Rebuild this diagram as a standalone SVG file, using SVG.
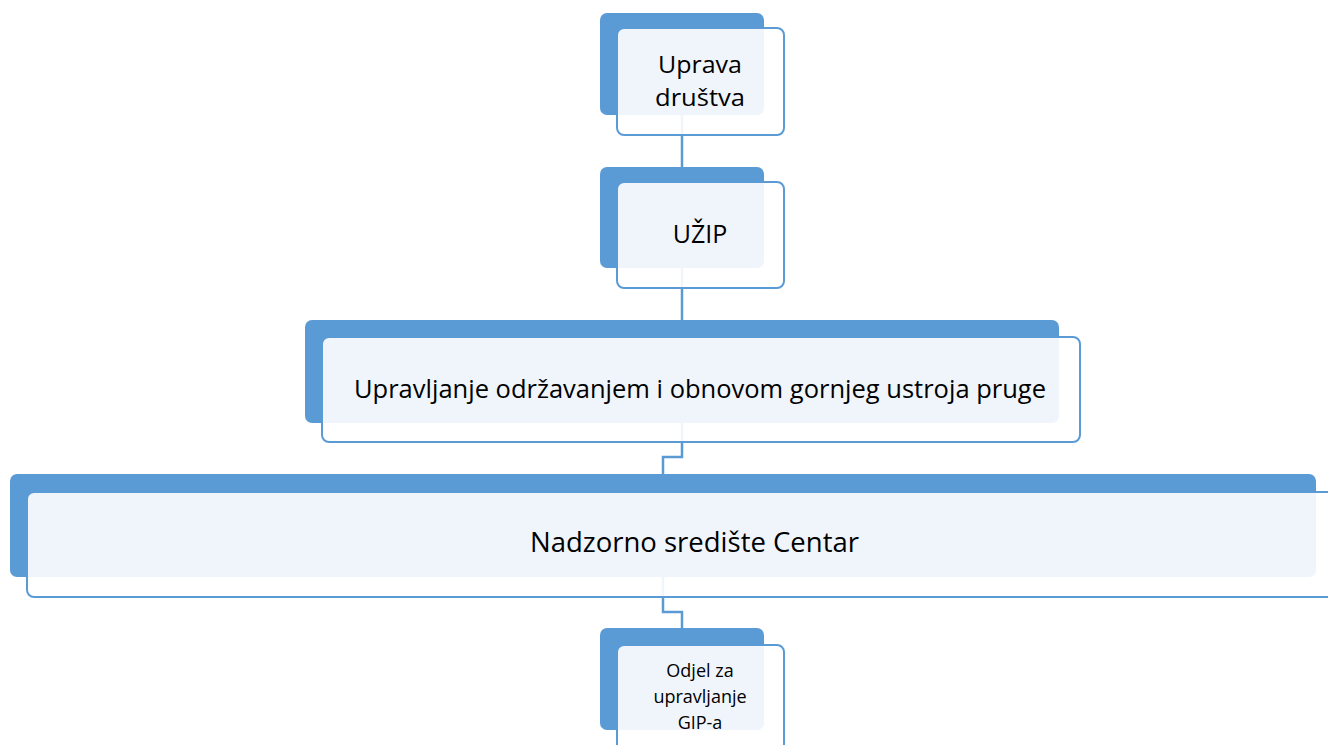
<svg xmlns="http://www.w3.org/2000/svg" width="1328" height="745" viewBox="0 0 1328 745">
<style>
.back{fill:#5B9BD5}
.front{fill:#fff;fill-opacity:0.9;stroke:#5B9BD5;stroke-width:2}
.conn{fill:none;stroke:#5B9BD5;stroke-width:2.5}
.t{font-family:"Open Sans","Liberation Sans",sans-serif;font-size:25px;fill:#000;text-anchor:middle}
.m{font-size:24px}
.s{font-size:18px}
.l{font-size:27.5px}
</style>
<rect width="1328" height="745" fill="#fff"/>
<g id="connectors">
<path class="conn" d="M682 115 V167"/>
<path class="conn" d="M682 268 V320"/>
<path class="conn" d="M682 423 V457 H663 V474"/>
<path class="conn" d="M663 577 V612 H682 V628"/>
</g>
<g id="node1">
<rect class="back" x="600" y="13" width="164" height="102" rx="7"/>
<rect class="front" x="617" y="28" width="167" height="107" rx="7"/>
<text class="t m" x="700" y="73" textLength="84" lengthAdjust="spacingAndGlyphs">Uprava</text>
<text class="t m" x="700" y="106" textLength="90" lengthAdjust="spacingAndGlyphs">društva</text>
</g>
<g id="node2">
<rect class="back" x="600" y="167" width="164" height="101" rx="7"/>
<rect class="front" x="617" y="182" width="167" height="106" rx="7"/>
<text class="t" x="700" y="243">UŽIP</text>
</g>
<g id="node3">
<rect class="back" x="305" y="320" width="754" height="103" rx="7"/>
<rect class="front" x="322" y="337" width="758" height="105" rx="7"/>
<text class="t" x="700" y="398" textLength="692" lengthAdjust="spacingAndGlyphs">Upravljanje održavanjem i obnovom gornjeg ustroja pruge</text>
</g>
<g id="node4">
<rect class="back" x="10" y="474" width="1306" height="103" rx="7"/>
<rect class="front" x="27" y="492" width="1310" height="105" rx="7"/>
<text class="t l" x="694.5" y="552">Nadzorno središte Centar</text>
</g>
<g id="node5">
<rect class="back" x="600" y="628" width="164" height="102" rx="7"/>
<rect class="front" x="617" y="645" width="167" height="106" rx="7"/>
<text class="t s" x="700" y="677">Odjel za</text>
<text class="t s" x="700" y="703">upravljanje</text>
<text class="t s" x="700" y="729">GIP-a</text>
</g>
</svg>
